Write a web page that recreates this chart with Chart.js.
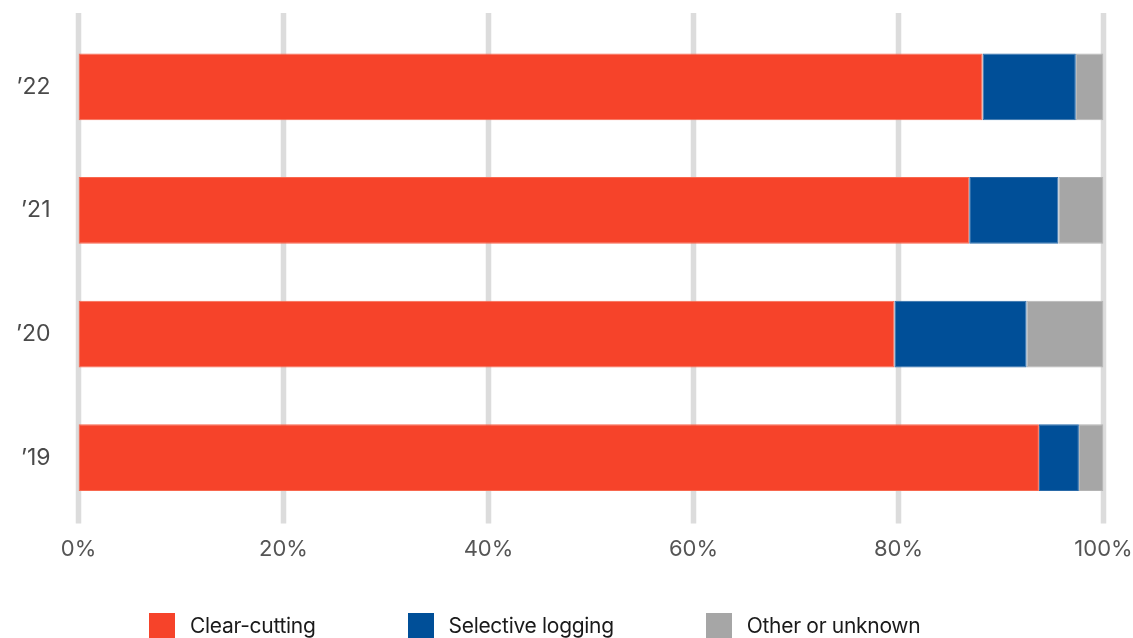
<!DOCTYPE html>
<html>
<head>
<meta charset="utf-8">
<script src="https://cdn.jsdelivr.net/npm/chart.js@4.4.0/dist/chart.umd.min.js"></script>
<style>
    html, body { margin: 0; padding: 0; background: #fff; overflow: hidden; }
    #wrap { position: relative; width: 1133px; height: 638px; overflow: hidden; }
    #legend {
        position: absolute; top: 613px; left: 149px;
        display: flex; gap: 92px;
        font-family: Inter, sans-serif; font-size: 21px; letter-spacing: -0.3px; color: #1a1a1a;
    }
    .item { display: flex; align-items: center; line-height: 26px; }
    .swatch { width: 26px; height: 26px; margin-right: 15px; }
</style>
</head>
<body>
<div id="wrap">
    <canvas id="chart" width="1133" height="638"></canvas>
    <div id="legend"></div>
</div>
<script>
// Share of logging by method, per year (percent)
const years = ['\u201922', '\u201921', '\u201920', '\u201919'];
const clearCutting = [88.2, 86.9, 79.6, 93.7];
const selectiveLogging = [9.1, 8.7, 12.9, 3.9];
const otherUnknown = [2.7, 4.4, 7.5, 2.4];
const xTicks = [0, 20, 40, 60, 80, 100];

const seriesNames = ['Clear-cutting', 'Selective logging', 'Other or unknown'];
const seriesColors = ['#f6432a', '#004f98', '#a6a6a6'];
const seriesBorders = ['#f8684f', '#2a6aa8', '#b4b4b4'];

// thick vertical grid lines that run a little past the plot area
const gridPlugin = {
    id: 'thickGrid',
    beforeDatasetsDraw(chart) {
        const { ctx, chartArea, scales } = chart;
        ctx.save();
        ctx.strokeStyle = '#dcdcdc';
        ctx.lineWidth = 5.5;
        xTicks.forEach(v => {
            const x = scales.x.getPixelForValue(v);
            ctx.beginPath();
            ctx.moveTo(x, chartArea.top - 12);
            ctx.lineTo(x, chartArea.bottom + 4);
            ctx.stroke();
        });
        ctx.restore();
    }
};

const datasets = [clearCutting, selectiveLogging, otherUnknown].map((values, i) => ({
    label: seriesNames[i],
    data: values,
    backgroundColor: seriesColors[i],
    borderColor: seriesBorders[i],
    borderWidth: 1,
    borderSkipped: false,
    barPercentage: 0.54,
    categoryPercentage: 1
}));

const chart = new Chart(document.getElementById('chart').getContext('2d'), {
    type: 'bar',
    data: { labels: years, datasets: datasets },
    options: {
        indexAxis: 'y',
        responsive: false,
        animation: false,
        layout: { padding: { top: 25, left: 0, right: 29.5, bottom: 73.5 } },
        plugins: {
            legend: { display: false },
            tooltip: { enabled: false }
        },
        scales: {
            x: {
                stacked: true,
                min: 0,
                max: 100,
                afterBuildTicks(scale) {
                    scale.ticks = xTicks.map(v => ({ value: v }));
                },
                // fixed axis height; the end labels may hang past the plot edges
                afterFit(scale) {
                    scale.height = 45;
                    scale.paddingLeft = 0;
                    scale.paddingRight = 0;
                },
                grid: { display: false, drawTicks: false },
                border: { display: false },
                ticks: {
                    padding: 17,
                    color: '#555555',
                    font: { family: 'Inter', size: 22 },
                    callback: v => v + '%'
                }
            },
            y: {
                stacked: true,
                // fixed axis width; drop the extra room the labels ask for above and below
                afterFit(scale) {
                    scale.width = 78.5;
                    scale.paddingTop = 0;
                    scale.paddingBottom = 0;
                },
                grid: { display: false, drawTicks: false },
                border: { display: false },
                ticks: {
                    padding: 28,
                    color: '#4a4a4a',
                    font: { family: 'Inter', size: 23 }
                }
            }
        }
    },
    plugins: [gridPlugin]
});

// legend built from the chart's datasets
const legend = document.getElementById('legend');
chart.data.datasets.forEach(ds => {
    const item = document.createElement('div');
    item.className = 'item';
    const swatch = document.createElement('span');
    swatch.className = 'swatch';
    swatch.style.background = ds.backgroundColor;
    const text = document.createElement('span');
    text.textContent = ds.label;
    item.appendChild(swatch);
    item.appendChild(text);
    legend.appendChild(item);
});
</script>
</body>
</html>
